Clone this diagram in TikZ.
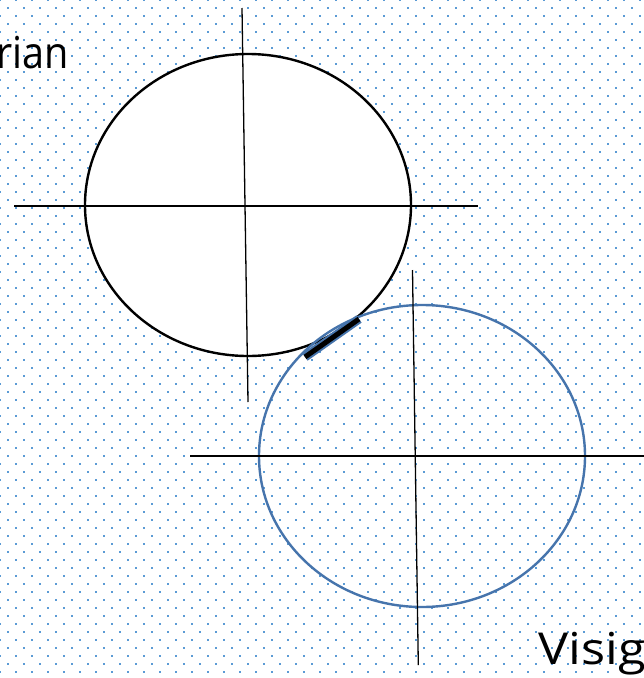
\documentclass[tikz,border=0pt]{standalone}
\usepackage{fontspec}
\setmainfont{Open Sans}
\definecolor{dotc}{HTML}{5B9BD5}
\definecolor{ringblue}{HTML}{4674AC}
\begin{document}
\begin{tikzpicture}[x=1pt,y=-1pt,
  axis/.style={black,line width=1.3pt},
  ring/.style={line width=2.4pt},
  lbl/.style={font=\fontsize{44}{50}\selectfont,inner sep=0pt,text=black}]
\useasboundingbox (0,0) rectangle (644,678);
\clip (0,0) rectangle (644,678);
\fill[white] (0,0) rectangle (644,678);
\foreach \r in {0,...,85}{
  \pgfmathsetmacro\off{mod(\r,2)*8}
  \foreach \c in {0,...,41}{
    \fill[dotc] (\c*16+\off-1,\r*8-1) rectangle ++(2,2);
  }
}
% black circle
\draw[ring,black,fill=white] (248,205) ellipse [x radius=163,y radius=151];
\coordinate (bh1) at (14,206);
\coordinate (bh2) at (478,206);
\coordinate (bv1) at (242,8);
\coordinate (bv2) at (248,402);
\draw[axis] (bh1) -- (bh2);
\draw[axis] (bv1) -- (bv2);
% blue circle
\draw[ring,ringblue] (422,456) ellipse [x radius=163,y radius=151];
\coordinate (uh1) at (190,456);
\coordinate (uh2) at (650,456);
\coordinate (uv1) at (412.5,270);
\coordinate (uv2) at (418.3,665);
\draw[axis] (uh1) -- (uh2);
\draw[axis] (uv1) -- (uv2);
% contact segment
\coordinate (s1) at (305,357);
\coordinate (s2) at (359,319);
\draw[ringblue,line width=9pt] (s1) -- (s2);
\draw[black,line width=5pt] (s1) -- (s2);
% labels
\node[lbl,anchor=base west,xscale=0.9] (t1) at (-4,68) {rian};
\node[lbl,anchor=base west,xscale=1.15] (t2) at (538,664) {Visig};
\end{tikzpicture}
\end{document}
